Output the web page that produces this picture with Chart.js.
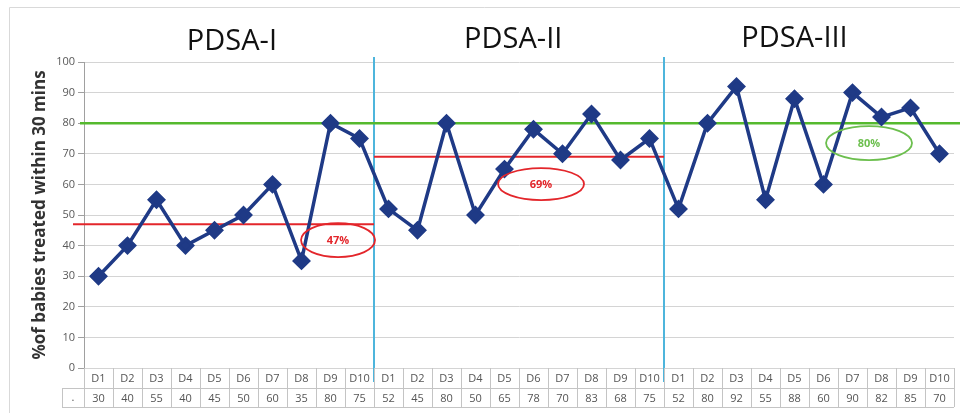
<!DOCTYPE html>
<html>
<head>
<meta charset="utf-8">
<script src="https://cdn.jsdelivr.net/npm/chart.js@4.4.0/dist/chart.umd.min.js"></script>
<style>
  html, body { margin: 0; padding: 0; background: #fff; }
  #wrap { width: 960px; height: 413px; }
</style>
</head>
<body>
<div id="wrap"><canvas id="pdsaChart" width="960" height="413"></canvas></div>
<script>
// values
const days = ["D1", "D2", "D3", "D4", "D5", "D6", "D7", "D8", "D9", "D10"];
const phaseNames = ["PDSA-I", "PDSA-II", "PDSA-III"];
const pdsa1 = [30, 40, 55, 40, 45, 50, 60, 35, 80, 75];
const pdsa2 = [52, 45, 80, 50, 65, 78, 70, 83, 68, 75];
const pdsa3 = [52, 80, 92, 55, 88, 60, 90, 82, 85, 70];
const phaseMeans = [47, 69]; // red lines for PDSA-I and PDSA-II
const targetValue = 80;      // green goal line
const yMin = 0, yMax = 100, yStep = 10;

const allValues = pdsa1.concat(pdsa2, pdsa3);
const allDays = days.concat(days, days);

// look of the overlays (not data)
const navy = "#1F3A86";
const red = "#E3262B";
const green = "#55B92E";
const blue = "#4EB5DC";
const titleSpots = [{ i: 4.6, base: 50 }, { i: 14.3, base: 48 }, { i: 24.0, base: 47 }];
const notes = [
  { i: 8.26, v: 41.8, rx: 37, ry: 17, color: red, text: phaseMeans[0] + "%" },
  { i: 15.26, v: 60.1, rx: 43, ry: 16, color: red, text: phaseMeans[1] + "%" },
  { i: 26.57, v: 73.5, rx: 43, ry: 17, color: "#6CBF4E", text: targetValue + "%" }
];

function colEdges(x) {
  const w = x.getPixelForValue(1) - x.getPixelForValue(0);
  const edges = [];
  for (let i = 0; i <= allValues.length; i++) edges.push(x.getPixelForValue(0) - w / 2 + i * w);
  return edges;
}

const pdsaOverlay = {
  id: "pdsaOverlay",
  beforeDraw(chart) {
    const ctx = chart.ctx;
    ctx.save();
    ctx.strokeStyle = "#d9d9d9";
    ctx.lineWidth = 1;
    ctx.beginPath();
    ctx.moveTo(9.5, chart.height);
    ctx.lineTo(9.5, 7.5);
    ctx.lineTo(chart.width, 7.5);
    ctx.stroke();
    ctx.restore();
  },
  beforeDatasetsDraw(chart) {
    const { ctx, chartArea, scales: { x, y } } = chart;
    const edges = colEdges(x);
    ctx.save();
    // phase boundaries
    ctx.strokeStyle = blue;
    ctx.lineWidth = 2;
    [days.length, days.length * 2].forEach(k => {
      ctx.beginPath();
      ctx.moveTo(edges[k], chartArea.top - 5);
      ctx.lineTo(edges[k], y.getPixelForValue(0) + 14);
      ctx.stroke();
    });
    // red phase means
    ctx.strokeStyle = red;
    ctx.lineWidth = 2;
    phaseMeans.forEach((m, p) => {
      const py = y.getPixelForValue(m);
      ctx.beginPath();
      ctx.moveTo(p === 0 ? chartArea.left - 11 : edges[p * days.length], py);
      ctx.lineTo(edges[(p + 1) * days.length], py);
      ctx.stroke();
    });
    // green target
    ctx.strokeStyle = green;
    ctx.lineWidth = 2.5;
    const gy = y.getPixelForValue(targetValue);
    ctx.beginPath();
    ctx.moveTo(chartArea.left - 4, gy);
    ctx.lineTo(chart.width, gy);
    ctx.stroke();
    ctx.restore();
  },
  afterDraw(chart) {
    const { ctx, chartArea, scales: { x, y } } = chart;
    const edges = colEdges(x);
    ctx.save();
    // phase titles
    ctx.fillStyle = "#111";
    ctx.font = "29px 'Open Sans', sans-serif";
    ctx.textAlign = "center";
    ctx.textBaseline = "alphabetic";
    phaseNames.forEach((n, p) => {
      ctx.fillText(n, x.getPixelForValue(titleSpots[p].i), titleSpots[p].base);
    });
    // ellipses with percentages
    notes.forEach(n => {
      const cx = x.getPixelForValue(n.i), cy = y.getPixelForValue(n.v);
      ctx.strokeStyle = n.color;
      ctx.lineWidth = 1.8;
      ctx.beginPath();
      ctx.ellipse(cx, cy, n.rx, n.ry, 0, 0, Math.PI * 2);
      ctx.stroke();
      ctx.fillStyle = n.color;
      ctx.font = "bold 11px 'Open Sans', sans-serif";
      ctx.textBaseline = "middle";
      ctx.fillText(n.text, cx, cy + 1);
    });
    // data table under the axis
    const top = y.getPixelForValue(0);
    const mid = top + 20, bot = top + 39;
    const leftCell = chartArea.left - 22;
    const right = edges[edges.length - 1];
    ctx.strokeStyle = "#c4c4c4";
    ctx.lineWidth = 1;
    ctx.beginPath();
    edges.forEach(e => {
      ctx.moveTo(Math.round(e) + 0.5, top);
      ctx.lineTo(Math.round(e) + 0.5, bot);
    });
    ctx.moveTo(leftCell + 0.5, mid);
    ctx.lineTo(leftCell + 0.5, bot);
    ctx.moveTo(leftCell, mid + 0.5);
    ctx.lineTo(right, mid + 0.5);
    ctx.moveTo(leftCell, bot + 0.5);
    ctx.lineTo(right, bot + 0.5);
    ctx.stroke();
    ctx.fillStyle = "#555";
    ctx.font = "11px 'Open Sans', sans-serif";
    ctx.textBaseline = "middle";
    allDays.forEach((d, i) => {
      const cx = x.getPixelForValue(i);
      ctx.fillText(d, cx, (top + mid) / 2 + 1);
      ctx.fillText(String(allValues[i]), cx, (mid + bot) / 2 + 1);
    });
    ctx.fillText(".", (leftCell + chartArea.left) / 2, (mid + bot) / 2);
    ctx.restore();
  }
};

new Chart(document.getElementById("pdsaChart"), {
  type: "line",
  data: {
    labels: allDays,
    datasets: [
      {
        data: allValues,
        borderColor: navy,
        backgroundColor: navy,
        borderWidth: 3.5,
        pointStyle: "rectRot",
        pointRadius: 7,
        pointHoverRadius: 7,
        tension: 0,
      },
    ],
  },
  options: {
    responsive: false,
    animation: false,
    layout: { autoPadding: false, padding: { top: 62, bottom: 45, right: 6, left: 0 } },
    plugins: { legend: { display: false }, tooltip: { enabled: false } },
    scales: {
      x: { display: false, offset: true },
      y: {
        min: yMin,
        max: yMax,
        ticks: {
          stepSize: yStep,
          color: "#595959",
          padding: 3,
          font: { family: "'Open Sans', sans-serif", size: 11 },
        },
        grid: { color: "#d4d4d4", tickLength: 6, tickColor: "#a0a0a0" },
        border: { color: "#a0a0a0" },
        title: {
          display: true,
          text: "%of babies treated within 30 mins",
          color: "#333",
          font: { family: "'Open Sans', sans-serif", size: 17, weight: "bold" },
          padding: { top: 30 },
        },
        afterFit(scale) {
          scale.width = 84;
        },
      },
    },
  },
  plugins: [pdsaOverlay],
});
</script>
</body>
</html>
